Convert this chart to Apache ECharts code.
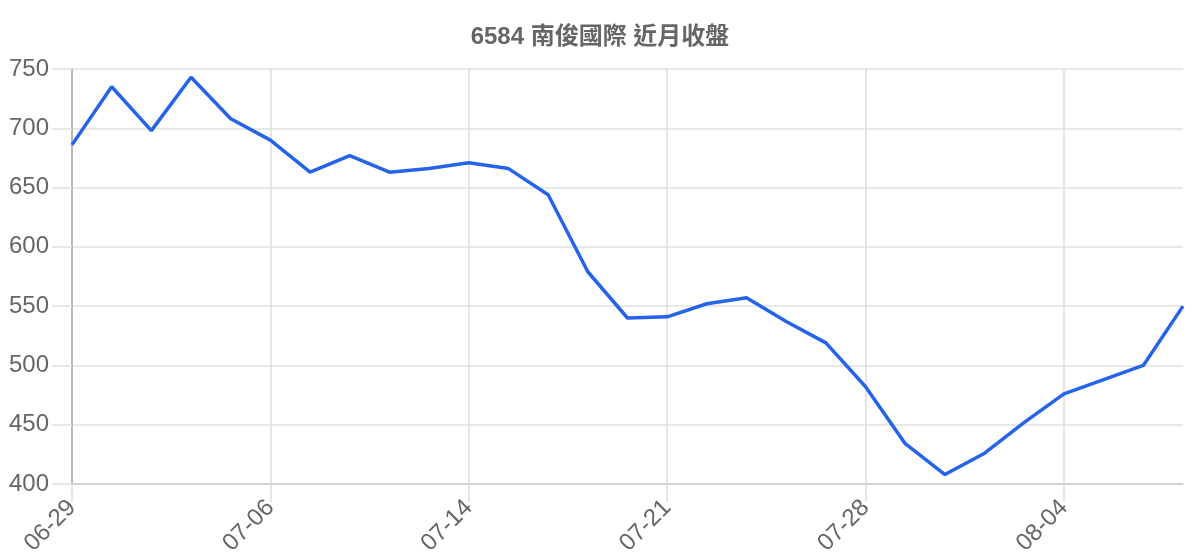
<!DOCTYPE html>
<html>
<head>
<meta charset="utf-8">
<script src="https://cdn.jsdelivr.net/npm/echarts@6/dist/echarts.min.js"></script>
<style>
  html, body { margin: 0; padding: 0; background: #fff; }
  #chart { width: 1200px; height: 560px; }
</style>
</head>
<body>
<div id="chart"></div>
<script>
// 6584 close prices, last month
const titleText = '6584 南俊國際 近月收盤';
const dates = [
    '06-29', '06-30', '07-03', '07-04', '07-05', '07-06', '07-07', '07-10', '07-11', '07-13',
    '07-14', '07-17', '07-18', '07-19', '07-20', '07-21', '07-24', '07-25', '07-26', '07-27',
    '07-28', '07-31', '08-01', '08-02', '08-03', '08-04', '08-07', '08-08', '08-09'
];
const closes = [
    686, 735, 698, 743, 708, 690, 663, 677, 663, 666,
    671, 666, 644, 579, 540, 541, 552, 557, 537, 519,
    482, 434, 408, 426, 452, 476, 488, 500, 550
];
const yMin = 400;
const yMax = 750;
const yStep = 50;

const font = '"Liberation Sans", "Noto Sans CJK TC", sans-serif';
const chart = echarts.init(document.getElementById('chart'));

const option = {
    animation: false,
    title: {
        text: titleText,
        left: 'center',
        top: 20,
        textStyle: {
            fontFamily: font,
            fontSize: 24,
            fontWeight: 'bold',
            color: '#666',
        },
    },
    grid: {
        left: 72,
        right: 17,
        top: 69,
        bottom: 76,
    },
    xAxis: {
        type: 'category',
        data: dates,
        boundaryGap: false,
        axisLine: {
            lineStyle: { color: '#cccccc', width: 1.5 },
        },
        axisTick: {
            show: true,
            interval: 4,
            length: 18,
            lineStyle: { color: '#dddddd', width: 1.5 },
        },
        axisLabel: {
            interval: 4,
            rotate: 45,
            margin: 20,
            fontFamily: font,
            fontSize: 24,
            color: '#666',
        },
        splitLine: {
            show: true,
            interval: 4,
            lineStyle: { color: '#dddddd', width: 1.5 },
        },
    },
    yAxis: {
        type: 'value',
        min: yMin,
        max: yMax,
        interval: yStep,
        axisLine: {
            show: true,
            lineStyle: { color: '#aaaaaa', width: 1.5 },
        },
        axisTick: {
            show: true,
            length: 20,
            lineStyle: { color: '#e0e0e0', width: 1.5 },
        },
        axisLabel: {
            margin: 23,
            fontFamily: font,
            fontSize: 24,
            color: '#666',
        },
        splitLine: {
            lineStyle: { color: '#e0e0e0', width: 1.5 },
        },
    },
    series: [{
        type: 'line',
        data: closes,
        showSymbol: false,
        lineStyle: { color: '#2563eb', width: 3.5 },
        itemStyle: { color: '#2563eb' },
    }],
};

chart.setOption(option);
</script>
</body>
</html>
